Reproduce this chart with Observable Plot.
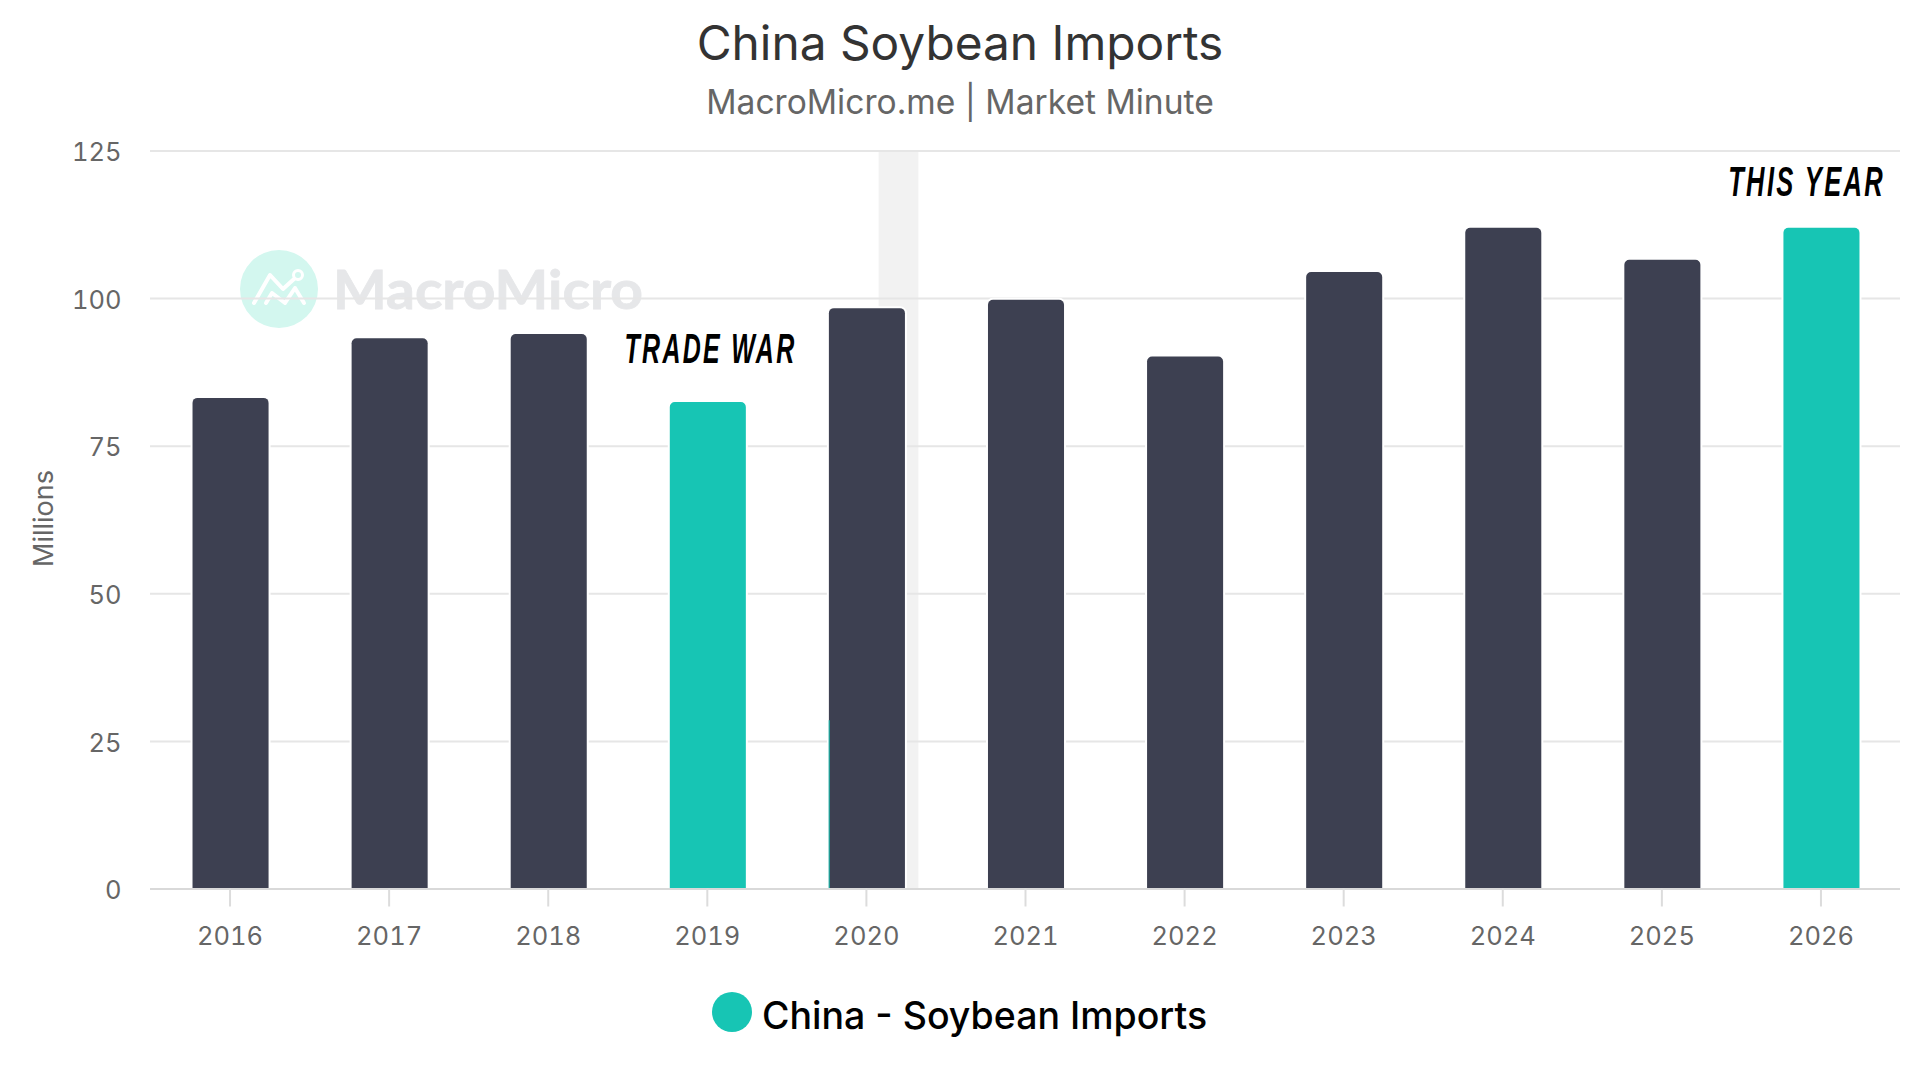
<!DOCTYPE html>
<html>
<head>
<meta charset="utf-8">
<script src="https://cdn.jsdelivr.net/npm/d3@7"></script>
<script src="https://cdn.jsdelivr.net/npm/@observablehq/plot@0.6"></script>
<style>
html,body{margin:0;padding:0;background:#fff;overflow:hidden}
body{width:1920px;height:1080px;position:relative;font-family:Inter,sans-serif}
#head{height:130px;position:relative}
#title{position:absolute;left:0;width:1920px;text-align:center;top:15px;font-size:47.8px;line-height:56px;color:#333}
#sub{position:absolute;left:0;width:1920px;text-align:center;top:80px;font-size:33.6px;line-height:44px;color:#666}
#wm{position:absolute;left:0;top:0}
#chart{position:absolute;left:0;top:130px}
#chart svg{background:transparent;overflow:visible}
#legend{position:absolute;left:0;top:950px;width:1920px;height:130px}
#dot{position:absolute;left:712px;top:42px;width:40px;height:40px;border-radius:50%;background:#17c5b4}
#ltext{position:absolute;left:762px;top:42px;font-size:37.5px;line-height:48px;font-weight:500;color:#000;white-space:nowrap}
.anno text{letter-spacing:4px}
</style>
</head>
<body>
<svg id="wm" width="1920" height="400">
  <circle cx="279" cy="289" r="39" fill="#d3f7ef"/>
  <polyline points="254,303 270,275 283,289 294,279" fill="none" stroke="#fff" stroke-width="4" stroke-linecap="round" stroke-linejoin="round"/>
  <polyline points="266,303 272,293 285,303 295,288 304,303" fill="none" stroke="#fff" stroke-width="4" stroke-linecap="round" stroke-linejoin="round"/>
  <circle cx="298" cy="275" r="4.5" fill="none" stroke="#fff" stroke-width="3"/>
  <text x="333" y="309" font-family="Lato,sans-serif" font-weight="700" font-size="54" fill="#e6e7e9" stroke="#e6e7e9" stroke-width="0.8" textLength="310" lengthAdjust="spacingAndGlyphs">MacroMicro</text>
</svg>
<div id="head">
  <div id="title">China Soybean Imports</div>
  <div id="sub">MacroMicro.me | Market Minute</div>
</div>
<div id="chart"></div>
<div id="legend"><div id="dot"></div><div id="ltext">China - Soybean Imports</div></div>
<script>
const years = [2016, 2017, 2018, 2019, 2020, 2021, 2022, 2023, 2024, 2025, 2026];
const imports = [83.1, 93.2, 93.9, 82.4, 98.3, 99.7, 90.1, 104.4, 111.9, 106.5, 111.9];
const highlighted = [2019, 2026];
const yTicks = [0, 25, 50, 75, 100, 125];
const bandRange = [2020.08, 2020.33];
const sliver = [{x: 2019.766, y: 28.5}];
const notes = [
  {x: 2019.02, y: 89.1, label: "TRADE WAR", len: 172},
  {x: 2025.91, y: 117.3, label: "THIS YEAR", len: 157}
];
const barHalf = 0.239;
const dark = "#3d4051", teal = "#17c5b4";
const rows = years.map((year, i) => ({year, value: imports[i], hot: highlighted.includes(year)}));

const plot = Plot.plot({
  width: 1920,
  height: 820,
  marginLeft: 150,
  marginRight: 20,
  marginTop: 20.5,
  marginBottom: 61.5,
  style: {background: "transparent", fontFamily: "Inter, sans-serif"},
  x: {domain: [2015.5, 2026.5], label: null},
  y: {domain: [0, 125], label: null},
  marks: [
    Plot.rect([bandRange], {x1: d => d[0], x2: d => d[1], y1: () => 0, y2: () => 125, fill: "#f2f2f2"}),
    Plot.ruleY(yTicks.filter(d => d > 0), {stroke: "#e6e6e6", strokeWidth: 2}),
    Plot.rectY(rows, {
      x1: d => d.year - barHalf, x2: d => d.year + barHalf, y: "value", dx: 1,
      fill: d => d.hot ? teal : dark, stroke: "#fff", strokeWidth: 4, paintOrder: "stroke", ry2: 5, rx: 5
    }),
    Plot.ruleX(sliver, {x: "x", y1: () => 0, y2: "y", stroke: teal, strokeWidth: 1}),
    Plot.ruleY([0], {stroke: "#d9d9d9", strokeWidth: 2}),
    Plot.axisX({ticks: years, tickFormat: "d", tickSize: 18, tickPadding: 20, stroke: "#dcdcdc", strokeWidth: 2, fill: "#666", fontSize: 25.5, label: null}),
    Plot.axisY({ticks: yTicks, tickSize: 0, tickPadding: 29, dy: 2, fill: "#666", fontSize: 25.5, label: null}),
    Plot.text(["Millions"], {frameAnchor: "left", rotate: -90, dx: -106, dy: 47, fill: "#666", fontSize: 27}),
    Plot.text(notes, {
      x: "x", y: "y", text: "label", className: "anno", lineAnchor: "bottom",
      fontFamily: "'Liberation Sans', sans-serif",
      fontStyle: "italic", fontWeight: 700, fontSize: 43, fill: "#000"
    })
  ]
});
document.getElementById("chart").appendChild(plot);
d3.select(plot).selectAll(".anno text").each(function() {
  const note = notes.find(n => n.label === this.textContent);
  if (note) {
    const k = note.len / this.getComputedTextLength();
    this.setAttribute("transform", (this.getAttribute("transform") || "") + ` scale(${k},1)`);
  }
});
</script>
</body>
</html>
